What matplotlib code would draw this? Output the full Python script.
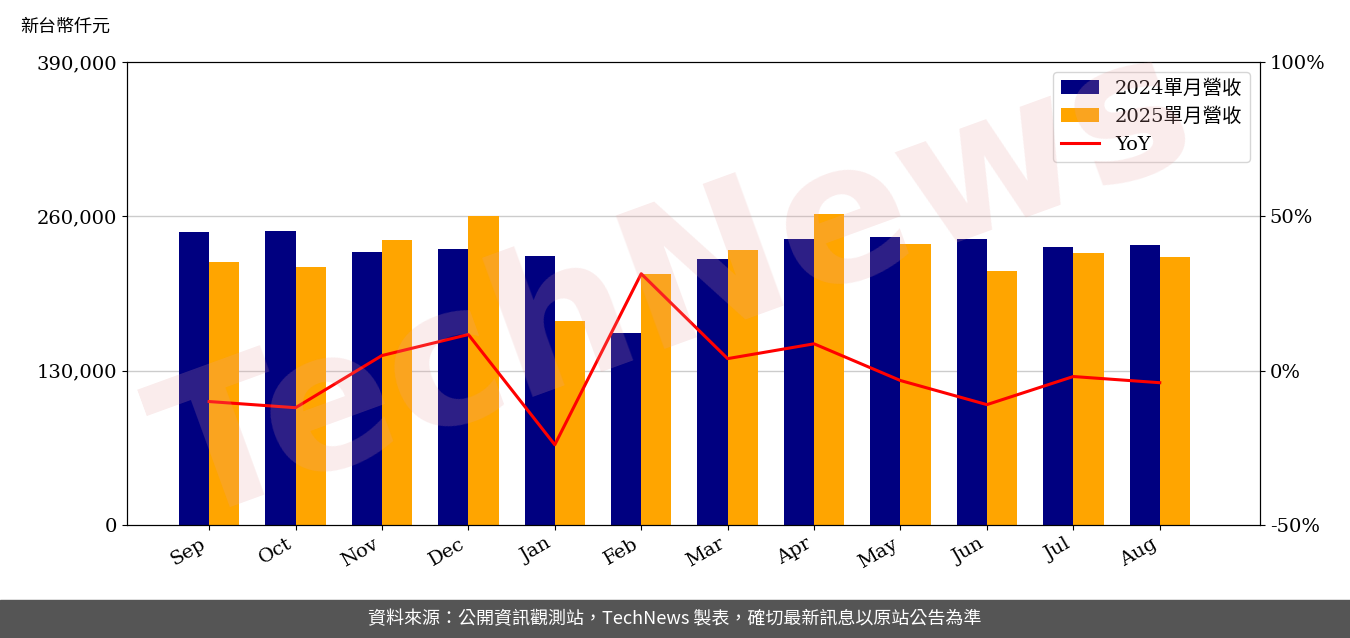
import matplotlib
matplotlib.use("Agg")
import matplotlib.pyplot as plt
import numpy as np

months = ["Sep","Oct","Nov","Dec","Jan","Feb","Mar","Apr","May","Jun","Jul","Aug"]
rev2024 = [246800,247600,229900,232500,226600,161700,224000,240900,242600,240900,234200,235800]
rev2025 = [221500,217300,240000,260300,171800,211400,231600,262000,236700,213900,229100,225700]
yoy = [-10.0,-12.0,4.9,11.7,-24.0,31.4,3.9,8.7,-3.2,-11.0,-1.9,-3.9]

fam = ['DejaVu Serif','Noto Sans CJK TC']
plt.rcParams['font.family'] = fam
fig = plt.figure(figsize=(13.5,6.38), dpi=100)
fig.text(0.5, 0.55, 'TechNews', fontsize=140, color='#e8a0a0', alpha=0.2, rotation=20,
         ha='center', va='center', family=['DejaVu Sans'], fontweight='bold', zorder=0)
ax = fig.add_axes([127/1350, 1-525/638, 1133/1350, 463/638])
ax.patch.set_alpha(0)
x = np.arange(len(months))
w = 0.35
b1 = ax.bar(x-w/2, rev2024, w, color='#000080', label='2024單月營收')
b2 = ax.bar(x+w/2, rev2025, w, color='#FFA500', label='2025單月營收')
ax.set_ylim(0,390000)
ax.set_yticks([0,130000,260000,390000])
ax.set_yticklabels(['0','130,000','260,000','390,000'], fontsize=14)
ax.set_xlim(-0.95, 12.16)
ax.set_xticks(x)
ax.set_xticklabels(months, rotation=30, ha='right', fontsize=14)
for yv in [130000,260000]:
    ax.axhline(yv, color='#cccccc', lw=1, zorder=0)
ax2 = ax.twinx()
l, = ax2.plot(x, yoy, color='red', lw=2.2, label='YoY')
ax2.set_ylim(-50,100)
ax2.set_yticks([-50,0,50,100])
ax2.set_yticklabels(['-50%','0%','50%','100%'], fontsize=14)
ax2.legend(handles=[b1,b2,l], loc='upper right', prop={'family':fam,'size':14})
fig.text(20/1350, 1-27/638, '新台幣仟元', fontsize=13, va='center', family=['Noto Sans CJK TC'])
fig.patches.append(plt.Rectangle((0,0),1,38/638, transform=fig.transFigure, color='#555555'))
fig.text(0.5, 19/638, '資料來源：公開資訊觀測站，TechNews 製表，確切最新訊息以原站公告為準',
         color='white', fontsize=13, ha='center', va='center', family=['Noto Sans CJK TC'])
fig.savefig('out.png', dpi=100)
